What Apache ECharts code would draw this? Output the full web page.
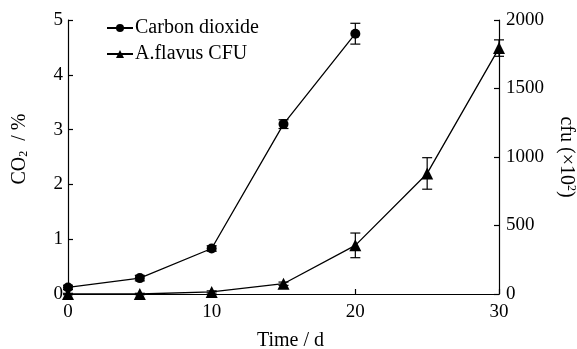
<!DOCTYPE html>
<html>
<head>
<meta charset="utf-8">
<script src="https://cdn.jsdelivr.net/npm/echarts@6/dist/echarts.min.js"></script>
<style>
  html, body { margin: 0; padding: 0; background: #fff; }
  #chart { width: 577px; height: 349px; }
</style>
</head>
<body>
<div id="chart"></div>
<script>
// CO2 concentration (%) with standard deviation, measured up to day 20
const co2Days = [0, 5, 10, 15, 20];
const co2Values = [0.12, 0.29, 0.83, 3.1, 4.75];
const co2Err = [0.04, 0.05, 0.05, 0.08, 0.19];

// A. flavus colony counts (cfu ×10²) with standard deviation
const cfuDays = [0, 5, 10, 15, 20, 25, 30];
const cfuValues = [0, 0, 15, 75, 355, 880, 1795];
const cfuErr = [5, 5, 8, 12, 90, 115, 60];

const FONT = 'Liberation Serif';
const TICK_SIZE = 19;
const TITLE_SIZE = 20;

function errorBarSeries(name, xs, ys, errs, yAxisIndex) {
  return {
    type: 'custom',
    name: name + ' error',
    yAxisIndex: yAxisIndex,
    silent: true,
    z: 3,
    data: xs.map((x, i) => [x, ys[i] - errs[i], ys[i] + errs[i]]),
    renderItem: function (params, api) {
      const x = api.value(0);
      const lo = api.coord([x, api.value(1)]);
      const hi = api.coord([x, api.value(2)]);
      const half = 5;
      const style = { stroke: '#000', lineWidth: 1.2 };
      return {
        type: 'group',
        children: [
          { type: 'line', shape: { x1: lo[0], y1: lo[1], x2: hi[0], y2: hi[1] }, style: style },
          { type: 'line', shape: { x1: lo[0] - half, y1: lo[1], x2: lo[0] + half, y2: lo[1] }, style: style },
          { type: 'line', shape: { x1: hi[0] - half, y1: hi[1], x2: hi[0] + half, y2: hi[1] }, style: style }
        ]
      };
    }
  };
}

const chart = echarts.init(document.getElementById('chart'), null, { renderer: 'canvas' });

const axisLine = { show: true, lineStyle: { color: '#000', width: 1.2 } };
const axisTick = { show: true, inside: true, length: 5, lineStyle: { color: '#000', width: 1.2 } };
const axisLabel = { fontFamily: FONT, fontSize: TICK_SIZE, color: '#000' };

chart.setOption({
  animation: false,
  backgroundColor: '#fff',
  textStyle: { fontFamily: FONT, color: '#000' },
  grid: { left: 68, right: 78, top: 20, bottom: 55, containLabel: false, outerBoundsMode: 'none' },
  legend: {
    left: 101,
    top: 13,
    orient: 'vertical',
    itemGap: 6,
    itemWidth: 26,
    itemHeight: 10,
    textStyle: { fontFamily: FONT, fontSize: 20, color: '#000', padding: [0, 0, 0, -3] },
    data: ['Carbon dioxide', 'A.flavus CFU']
  },
  xAxis: {
    type: 'value',
    min: 0,
    max: 30,
    interval: 10,
    name: 'Time / d',
    nameLocation: 'middle',
    nameGap: 37,
    nameTextStyle: { fontFamily: FONT, fontSize: TITLE_SIZE, color: '#000', padding: [0, 0, 0, 14] },
    axisLine: axisLine,
    axisTick: axisTick,
    splitLine: { show: false },
    axisLabel: Object.assign({ margin: 9 }, axisLabel)
  },
  yAxis: [
    {
      type: 'value',
      min: 0,
      max: 5,
      interval: 1,
      position: 'left',
      name: '{a|CO}{s|2}{a|  / %}',
      nameLocation: 'middle',
      nameRotate: 90,
      nameGap: 38,
      nameTextStyle: {
        padding: [0, 0, 0, 16],
        rich: {
          a: { fontFamily: FONT, fontSize: TITLE_SIZE, color: '#000' },
          s: { fontFamily: FONT, fontSize: 12, color: '#000', verticalAlign: 'bottom', padding: [9, 0, 0, 0] }
        }
      },
      axisLine: axisLine,
      axisTick: axisTick,
      splitLine: { show: false },
      axisLabel: Object.assign({ margin: 5 }, axisLabel)
    },
    {
      type: 'value',
      min: 0,
      max: 2000,
      interval: 500,
      position: 'right',
      name: '{a|cfu (×10}{s|2}{a|)}',
      nameLocation: 'middle',
      nameRotate: -90,
      nameGap: 57,
      nameTextStyle: {
        rich: {
          a: { fontFamily: FONT, fontSize: TITLE_SIZE, color: '#000' },
          s: { fontFamily: FONT, fontSize: 12, color: '#000', verticalAlign: 'top', padding: [0, 0, 9, 0] }
        }
      },
      axisLine: axisLine,
      axisTick: axisTick,
      splitLine: { show: false },
      axisLabel: Object.assign({ margin: 7, formatter: v => String(v) }, axisLabel)
    }
  ],
  series: [
    {
      name: 'Carbon dioxide',
      type: 'line',
      yAxisIndex: 0,
      data: co2Days.map((d, i) => [d, co2Values[i]]),
      symbol: 'circle',
      symbolSize: 10,
      itemStyle: { color: '#000' },
      lineStyle: { color: '#000', width: 1.3 },
      z: 4
    },
    {
      name: 'A.flavus CFU',
      type: 'line',
      yAxisIndex: 1,
      data: cfuDays.map((d, i) => [d, cfuValues[i]]),
      symbol: 'triangle',
      symbolSize: 12,
      itemStyle: { color: '#000' },
      lineStyle: { color: '#000', width: 1.3 },
      z: 4
    },
    errorBarSeries('Carbon dioxide', co2Days, co2Values, co2Err, 0),
    errorBarSeries('A.flavus CFU', cfuDays, cfuValues, cfuErr, 1)
  ]
});
</script>
</body>
</html>
